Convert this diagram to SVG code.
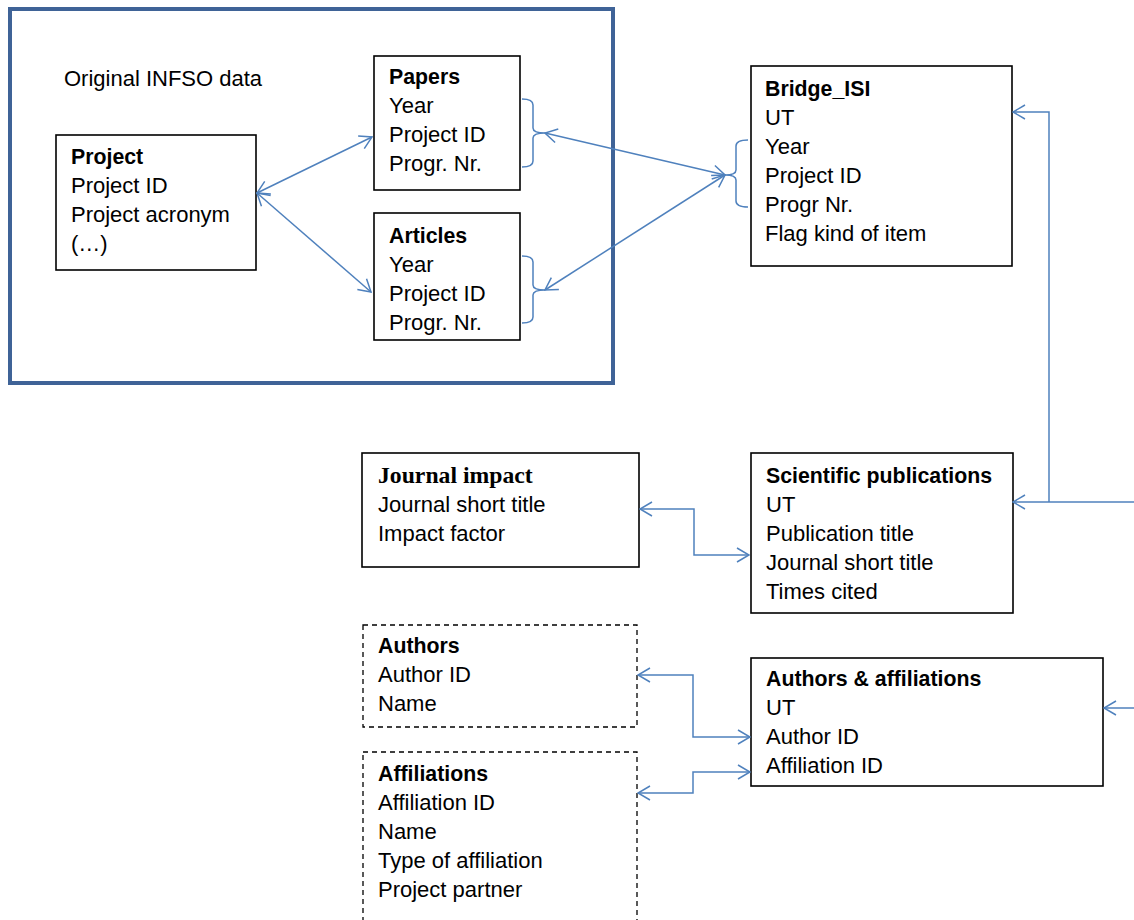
<svg xmlns="http://www.w3.org/2000/svg" width="1134" height="920" viewBox="0 0 1134 920">
<defs>
<marker id="ah" viewBox="0 0 14 16" refX="13" refY="8" markerWidth="14" markerHeight="16" markerUnits="userSpaceOnUse" orient="auto-start-reverse">
<path d="M1,1 L13,8 L1,15" fill="none" stroke="#4F81BD" stroke-width="1.5"/>
</marker>
<style>
.box{fill:#fff;stroke:#000;stroke-width:1.6}
.dash{fill:#fff;stroke:#000;stroke-width:1.3;stroke-dasharray:5,4}
.t{font-family:"Liberation Sans",Arial,sans-serif;font-size:22px;fill:#000}
.b{font-weight:bold;font-size:21.3px}
.serif{font-family:"Liberation Serif","Times New Roman",serif;font-size:23.7px;font-weight:bold}
.c{fill:none;stroke:#4F81BD;stroke-width:1.5}
.ar{marker-start:url(#ah);marker-end:url(#ah)}
.ae{marker-end:url(#ah)}
</style>
</defs>
<rect x="10" y="9" width="603" height="374" fill="none" stroke="#3F6397" stroke-width="4"/>
<text class="t" x="64" y="86">Original INFSO data</text>
<g id="project">
<rect class="box" x="56" y="135" width="200" height="135"/>
<text class="t b" x="71" y="164">Project</text>
<text class="t" x="71" y="193">Project ID</text>
<text class="t" x="71" y="222">Project acronym</text>
<text class="t" x="71" y="251">(…)</text>
</g>
<g id="papers">
<rect class="box" x="374" y="56" width="146" height="134"/>
<text class="t b" x="389" y="84">Papers</text>
<text class="t" x="389" y="113">Year</text>
<text class="t" x="389" y="142">Project ID</text>
<text class="t" x="389" y="171">Progr. Nr.</text>
</g>
<g id="articles">
<rect class="box" x="374" y="213" width="146" height="127"/>
<text class="t b" x="389" y="243">Articles</text>
<text class="t" x="389" y="272">Year</text>
<text class="t" x="389" y="301">Project ID</text>
<text class="t" x="389" y="330">Progr. Nr.</text>
</g>
<g id="bridge_isi">
<rect class="box" x="751" y="66" width="261" height="200"/>
<text class="t b" x="765" y="96">Bridge_ISI</text>
<text class="t" x="765" y="125">UT</text>
<text class="t" x="765" y="154">Year</text>
<text class="t" x="765" y="183">Project ID</text>
<text class="t" x="765" y="212">Progr Nr.</text>
<text class="t" x="765" y="241">Flag kind of item</text>
</g>
<g id="journal_impact">
<rect class="box" x="362" y="453" width="277" height="114"/>
<text class="serif" x="378" y="483">Journal impact</text>
<text class="t" x="378" y="512">Journal short title</text>
<text class="t" x="378" y="541">Impact factor</text>
</g>
<g id="scientific_publications">
<rect class="box" x="751" y="453" width="262" height="160"/>
<text class="t b" x="766" y="483">Scientific publications</text>
<text class="t" x="766" y="512">UT</text>
<text class="t" x="766" y="541">Publication title</text>
<text class="t" x="766" y="570">Journal short title</text>
<text class="t" x="766" y="599">Times cited</text>
</g>
<g id="authors">
<rect class="dash" x="363" y="625" width="274" height="102"/>
<text class="t b" x="378" y="653">Authors</text>
<text class="t" x="378" y="682">Author ID</text>
<text class="t" x="378" y="711">Name</text>
</g>
<g id="affiliations">
<rect class="dash" x="363" y="752" width="274" height="180"/>
<text class="t b" x="378" y="781">Affiliations</text>
<text class="t" x="378" y="810">Affiliation ID</text>
<text class="t" x="378" y="839">Name</text>
<text class="t" x="378" y="868">Type of affiliation</text>
<text class="t" x="378" y="897">Project partner</text>
</g>
<g id="authors_affiliations">
<rect class="box" x="751" y="658" width="352" height="128"/>
<text class="t b" x="766" y="686">Authors &amp; affiliations</text>
<text class="t" x="766" y="715">UT</text>
<text class="t" x="766" y="744">Author ID</text>
<text class="t" x="766" y="773">Affiliation ID</text>
</g>
<g id="connectors">
<path class="c" d="M522,99 Q533,99 533,105 V128 Q533,133 545,133 Q533,133 533,138 V161 Q533,167 522,167"/>
<path class="c" d="M522,256 Q533,256 533,262 V285 Q533,290 545,290 Q533,290 533,295 V317 Q533,323 522,323"/>
<path class="c" d="M748,140 Q736,140 736,146 V170 Q736,175 725,175 Q736,175 736,180 V201 Q736,207 748,207"/>
<line class="c ar" x1="257" y1="193" x2="372" y2="137"/>
<line class="c ar" x1="257" y1="193" x2="371" y2="292"/>
<line class="c ar" x1="545" y1="133" x2="725" y2="175"/>
<line class="c ar" x1="545" y1="290" x2="725" y2="175"/>
<path class="c ae" d="M1049,502 V112 H1013"/>
<path class="c ae" d="M1134,502 H1013"/>
<path class="c ar" d="M640,509 H694 V555 H749"/>
<path class="c ar" d="M638,675 H693 V737 H750"/>
<path class="c ar" d="M638,793 H693 V772 H750"/>
<path class="c ae" d="M1134,708 H1104"/>
</g>
</svg>
